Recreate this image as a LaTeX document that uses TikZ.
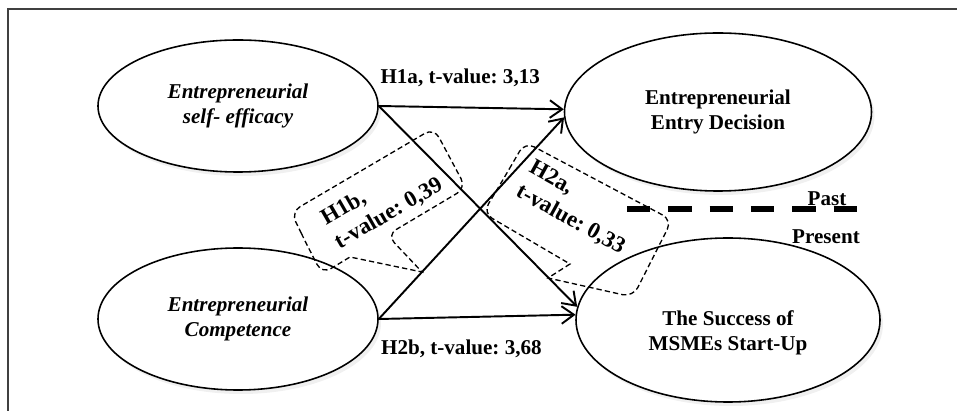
\documentclass[tikz,border=0pt]{standalone}
\usepackage{fontspec}
\setmainfont{Liberation Serif}
\frenchspacing
\usetikzlibrary{arrows.meta,shapes.geometric,shadows,positioning}
\tikzset{
  oval/.style={ellipse, draw, line width=0.9pt, fill=white, inner sep=0pt, align=center,
    font=\fontsize{12}{14}\selectfont\bfseries\itshape,
    drop shadow={opacity=0.12, shadow xshift=0.6mm, shadow yshift=-0.8mm}},
  upright/.style={font=\fontsize{12}{14}\selectfont\bfseries},
  lbl/.style={align=center, font=\fontsize{12}{14}\selectfont\bfseries},
  calltxt/.style={align=left, font=\fontsize{13}{15.5}\selectfont\bfseries},
  arr/.style={line width=1.1pt, -{Straight Barb[length=7pt,width=10pt]}},
  callout/.style={dash pattern=on 3pt off 1.8pt, line width=0.75pt},
  timeline/.style={line width=3.1pt, dash pattern=on 13.3pt off 10.2pt}
}

\begin{document}
\begin{tikzpicture}[x=0.2mm,y=-0.2mm]
\useasboundingbox (0,0) rectangle (957,411);
% frame
\draw[line width=1.2pt, black!75] (957,9) -- (8,9) -- (8,411);

% constructs
\node[oval, minimum width=56mm, minimum height=26.4mm] (selfeff) at (238,106) {Entrepreneurial\\self- efficacy};
\node[oval, minimum width=56mm, minimum height=28.4mm] (comp) at (238,319) {Entrepreneurial\\Competence};
\node[oval, upright, minimum width=61.4mm, minimum height=31.6mm] (entry) at (718,112) {Entrepreneurial\\Entry Decision};
\node[oval, minimum width=60.8mm, minimum height=32.8mm] (succ) at (728,320) {};
\node[lbl] (succtxt) at ([yshift=-2.6mm]succ.center) {The Success of\\MSMEs Start-Up};

% paths
\draw[arr] (selfeff.east) -- node[lbl, above=8pt, pos=0.44] (h1a) {H1a, t-value: 3,13} (entry.179);
\draw[arr] (selfeff.east) -- (succ.175);
\draw[arr] (comp.east) -- (entry.182);
\draw[arr] (comp.east) -- node[lbl, below=9pt, pos=0.42] (h2b) {H2b, t-value: 3,68} (succ.178);

% callouts
\draw[callout] (306,243) [rounded corners=6pt] -- (291,212) -- (434,128) -- (466,188) -- (387,235)
  [sharp corners] -- (422,272) -- (350,257) [rounded corners=6pt] -- (322,274) -- cycle;
\node[calltxt, rotate=30] (h1b) at (382,202) {H1b,\\t-value: 0,39};
\draw[callout] (504,178) [rounded corners=6pt] -- (525,142) -- (672,220) -- (633,297)
  [sharp corners] -- (548,278) -- (570,264) [rounded corners=6pt] -- (483,213) -- cycle;
\node[calltxt, rotate=-29] (h2a) at (577,208) {H2a,\\t-value: 0,33};

% time line
\coordinate (pastL) at (627,209);
\coordinate (pastR) at (857,209);
\draw[timeline] (pastL) -- (pastR);
\node[lbl] (past) at (827,199) {Past};
\node[lbl] (present) at (826,237) {Present};
\end{tikzpicture}
\end{document}
